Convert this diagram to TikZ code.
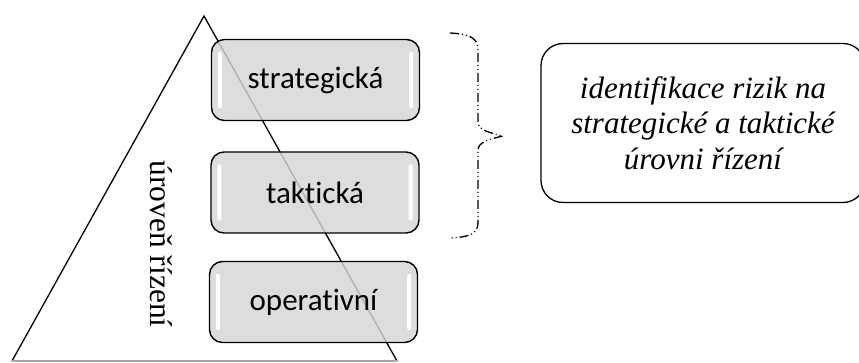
\documentclass[tikz,border=0pt]{standalone}
\usepackage{fontspec}
\setmainfont{Liberation Serif}
\newfontfamily\labelfont[Ligatures=NoCommon]{Carlito}
\begin{document}
\begin{tikzpicture}[x=1pt,y=-1pt,
  levelbox/.style={draw=black, line width=1.4pt, rounded corners=13pt,
    fill=gray!32, fill opacity=0.82, text opacity=1,
    minimum width=208pt, minimum height=81pt,
    font=\labelfont\fontsize{31}{36}\selectfont},
  shine/.style={fill=white, rounded corners=2pt, draw=none},
  notebox/.style={draw=black, line width=1.3pt, rounded corners=22pt,
    minimum width=324pt, minimum height=159pt, align=center,
    font=\itshape\fontsize{31}{35.5}\selectfont},
  bracepath/.style={line width=1.3pt,
    dash pattern=on 9pt off 3pt on 1pt off 3pt on 1pt off 3pt}
]
\useasboundingbox (0,0) rectangle (859,362);
\clip (0,0) rectangle (859,362);

% pyramid of management levels
\coordinate (apex) at (204,16);
\coordinate (bl) at (12,361);
\coordinate (br) at (397,361);
\draw[line width=1.3pt, line join=miter] (bl) -- (apex) -- (br);
\draw[gray!70, line width=1.6pt] (bl) -- (br);

\node[rotate=-90, font=\fontsize{31.5}{36}\selectfont] (axis) at (161,244) {úroveň řízení};

% level boxes
\node[levelbox] (strat) at (315.5,80) {strategická};
\node[levelbox] (takt) at (315,192.5) {taktická};
\node[levelbox] (oper) at (313.5,302) {operativní};

% highlights inside the boxes
\foreach \b in {strat,takt,oper}{
  \fill[shine] ([xshift=7pt,yshift=-13pt]\b.north west) rectangle ([xshift=11pt,yshift=13pt]\b.south west);
  \fill[shine] ([xshift=-11pt,yshift=-13pt]\b.north east) rectangle ([xshift=-7pt,yshift=13pt]\b.south east);
}

% brace grouping the upper two levels
\coordinate (btop) at (450,33);
\coordinate (bbot) at (450,238);
\coordinate (btip) at (503,136);
\draw[bracepath] (btop) .. controls (470,34) and (478,38) .. (478,50)
  -- (478,122) .. controls (478,130) and (490,133) .. (btip)
  .. controls (490,139) and (478,142) .. (478,150)
  -- (478,222) .. controls (478,234) and (470,237) .. (bbot);

% note box
\node[notebox] (note) at (703,123) {identifikace rizik na\\strategické a taktické\\úrovni řízení};
\end{tikzpicture}
\end{document}
